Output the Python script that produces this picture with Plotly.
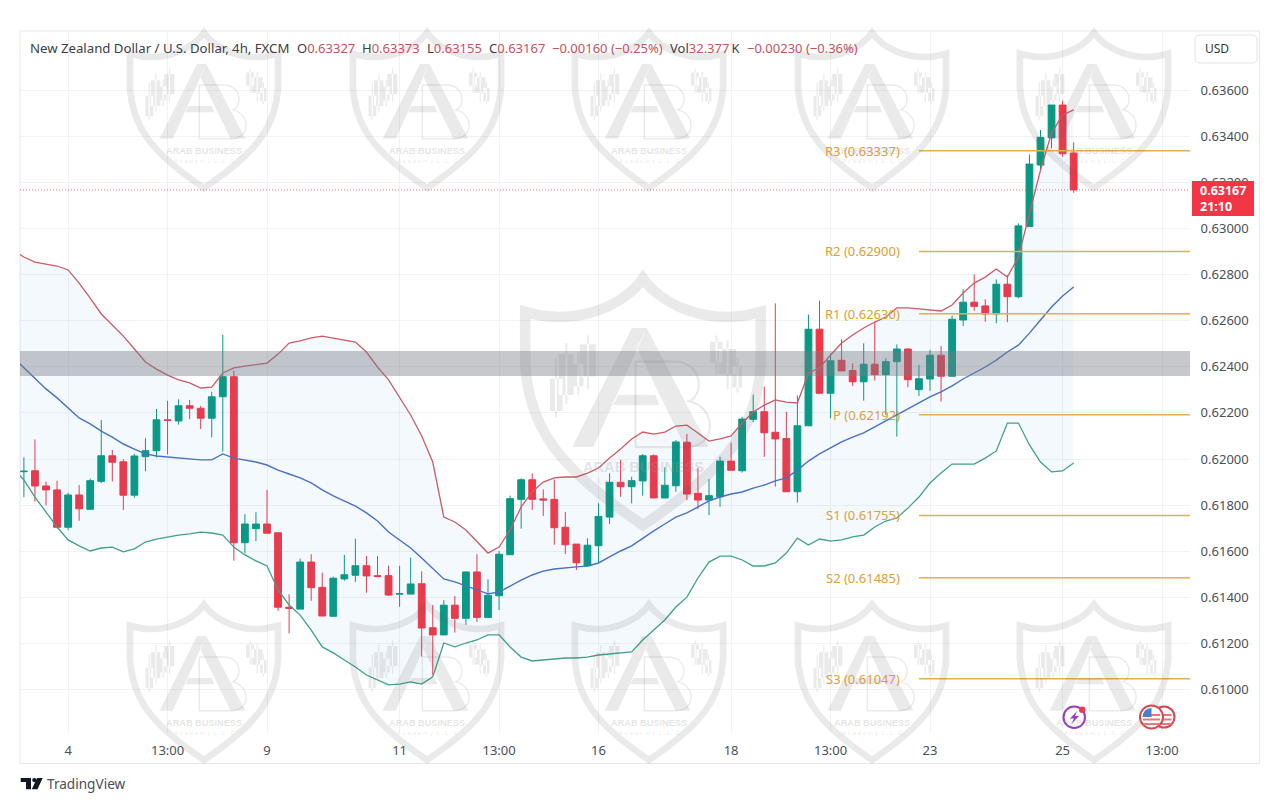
import plotly.graph_objects as go

# ---------- data ----------
opens = [.61945,.61949,.61883,.61866,.61704,.61844,.61782,.61903,.62014,.61988,.61843,.6201,.62036,.6217,.62165,.62231,.6222,.62177,.6227,.62357,
 .61637,.61698,.61718,.6168,.61357,.61349,.61553,.61443,.61318,.6148,.61496,.61537,.61494,.61494,.61414,.61414,.61459,.61268,.61237,.61366,
 .61309,.6151,.61313,.61407,.61585,.61825,.6191,.61827,.61825,.61704,.61631,.61537,.61624,.61748,.61899,.6188,.61905,.62014,.61831,.61884,
 .62073,.61851,.61822,.61836,.61991,.61949,.62172,.62205,.62116,.62089,.61858,.62144,.62563,.62285,.62428,.62384,.62335,.62411,.62366,.62422,
 .62477,.62301,.62347,.6245,.62359,.62603,.6268,.62664,.62629,.62758,.62704,.63008,.63275,.63393,.63535,.63327]
highs = [.62007,.62085,.61902,.61906,.61854,.61887,.61915,.62169,.62039,.61999,.62022,.6209,.62217,.62252,.62259,.62256,.6223,.62292,.62539,.62383,
 .61761,.61769,.61866,.6168,.61413,.61568,.61587,.61507,.6149,.61584,.61654,.61579,.61579,.61537,.61537,.61572,.61513,.61367,.61388,.61406,
 .61511,.61587,.61478,.61601,.61841,.61916,.61938,.61868,.61911,.6177,.61631,.61656,.61808,.61938,.61996,.61923,.62022,.6202,.61964,.62082,
 .62108,.61962,.61913,.6201,.62071,.62183,.62279,.62314,.62675,.62205,.62275,.62626,.62687,.62458,.6252,.62415,.62502,.62595,.62437,.62497,
 .6248,.62408,.62473,.6249,.62622,.62736,.62801,.62693,.62779,.62798,.63022,.63321,.63427,.63535,.63554,.63373]
lows = [.61834,.61815,.61799,.61699,.61692,.61732,.61779,.61895,.61903,.61779,.61832,.61947,.62007,.6202,.62149,.62173,.6213,.62094,.62032,.61559,
 .61591,.61644,.61678,.61341,.61244,.61347,.61385,.61319,.61318,.61472,.61467,.6142,.61489,.61406,.61359,.61413,.61143,.61063,.61237,.61247,
 .61281,.61293,.61313,.61345,.61585,.61698,.61779,.61753,.61628,.61588,.61519,.61537,.6155,.61718,.61836,.61808,.61841,.61831,.61831,.61858,
 .61822,.61782,.61757,.61793,.61951,.61941,.62159,.62009,.6188,.61858,.61812,.62144,.62285,.62177,.62382,.62317,.62253,.6234,.62191,.62097,
 .62311,.62273,.62296,.62249,.62359,.62577,.62643,.62595,.62589,.62593,.62697,.63008,.63256,.63347,.63311,.63155]
closes = [.61947,.61883,.61866,.61704,.61844,.61784,.61906,.62014,.61986,.61843,.62013,.62036,.6217,.62167,.62231,.6222,.62177,.6227,.62357,.61637,
 .61718,.61718,.61678,.61357,.61352,.61553,.61442,.61319,.61483,.61498,.61537,.61493,.6149,.6141,.61416,.61458,.61267,.61237,.61366,.61309,
 .6151,.61313,.61409,.61587,.61828,.6191,.61825,.61822,.61702,.61628,.6155,.61626,.61751,.61899,.6188,.61906,.62014,.61831,.61886,.62074,
 .61848,.61822,.61841,.61991,.61951,.62173,.62205,.62114,.62087,.61858,.62144,.62563,.62285,.62426,.62382,.62335,.62411,.62366,.62422,.62477,
 .62344,.62348,.6245,.62359,.62606,.6268,.62662,.62629,.62758,.62704,.63011,.63279,.63395,.63535,.63324,.63167]

# Bollinger bands start one bar before the first visible candle
bb_upper = [.62906,.62876,.62854,.62846,.62837,.6282,.62763,.62698,.62629,.62581,.62533,.62477,.62421,.6239,.62364,.62343,.6233,.62308,.62312,.62373,.62395,
 .62403,.62408,.62416,.62455,.62503,.62512,.62525,.62533,.62525,.62516,.62507,.62464,.62399,.62343,.62269,.62191,.621,.61987,.61748,.61727,
 .61692,.61644,.61592,.61618,.61692,.61792,.61857,.619,.61918,.61922,.61922,.61939,.61961,.62004,.62043,.62087,.62117,.62108,.62117,.62143,
 .62147,.62113,.62078,.62087,.621,.62156,.62204,.62234,.62256,.62247,.62243,.62373,.62395,.62451,.62503,.62538,.62568,.62594,.62616,.62655,
 .62655,.62651,.62646,.62642,.62668,.6272,.62763,.62789,.62824,.62789,.62876,.63067,.63253,.63414,.63492,.63514]
bb_basis = [.62442,.62395,.62351,.62304,.62265,.62221,.62178,.62152,.62121,.62095,.62065,.62043,.62022,.62013,.62009,.62004,.62,.61996,.61996,.62022,.62004,
 .61996,.61987,.61974,.61952,.61935,.61918,.61896,.61866,.6184,.61818,.61796,.61766,.61731,.61683,.61649,.61614,.61571,.61527,.6148,.61467,
 .61449,.61432,.61415,.61423,.61449,.61475,.61497,.61514,.61523,.61529,.61532,.61536,.61549,.61575,.61601,.61623,.61657,.61688,.61718,.61748,
 .61766,.61792,.61818,.61835,.61848,.61857,.61874,.61887,.61905,.61918,.61952,.61991,.62022,.62048,.62074,.62095,.62113,.62139,.62165,.62191,
 .62217,.62243,.62269,.62291,.62317,.62347,.62373,.62399,.62429,.62464,.62494,.62546,.62603,.62659,.62707,.62746]
bb_lower = [.61961,.61909,.61835,.6177,.61705,.61649,.61623,.61601,.61614,.61618,.61597,.6161,.6164,.61653,.61662,.6167,.61675,.61683,.61679,.6167,.61618,
 .61584,.61558,.61536,.61432,.61367,.61323,.61258,.61185,.61159,.61128,.61098,.61063,.61042,.6102,.61024,.61033,.61024,.61055,.61202,.61185,
 .61202,.61215,.61237,.61237,.61185,.61141,.61124,.61128,.61133,.61137,.61137,.61141,.6115,.61154,.61159,.61163,.61215,.61258,.61302,.61358,
 .61401,.61484,.61553,.61579,.61579,.61562,.61536,.61536,.61549,.61592,.61657,.61627,.61653,.61644,.61649,.61662,.6167,.61705,.61731,.61744,
 .61787,.61835,.61896,.61939,.61978,.61978,.61978,.62004,.62035,.62156,.62156,.62061,.61987,.61944,.61948,.61983]

pivot_names = ["R3", "R2", "R1", "P", "S1", "S2", "S3"]
pivot_values = [.63337, .62900, .62630, .62192, .61755, .61485, .61047]
zone_low, zone_high = .62360, .62468
last_price = .63167
time_positions = [4, 13, 22, 34, 43, 52, 64, 73, 82, 94, 103]
time_labels = ["4", "13:00", "9", "11", "13:00", "16", "18", "13:00", "23", "25", "13:00"]
price_ticks = [.61 + .002 * k for k in range(14)]

header_title = "New Zealand Dollar / U.S. Dollar, 4h, FXCM"
header_letters = ["O", "H", "L", "C", "", "Vol", ""]
header_values = ["0.63327", "0.63373", "0.63155", "0.63167", "\u22120.00160 (\u22120.25%)", "32.377", "\u22120.00230 (\u22120.36%)"]
header_suffix = ["", "", "", "", "", "\u2009K", ""]
header_x = [297, 362, 426.5, 488.5, 552, 669.5, 746.5]

# ---------- style ----------
FONT = "Noto Sans"
UP, DOWN = "#089981", "#f23645"
TXT = "#4a4f5a"
VAL = "#c4535f"
ORANGE = "#e6ae4e"
PL, PR, PT, PB = 20, 1190, 30, 733
W, H = 1280, 803
# pixel -> paper helpers for page furniture (frame, watermarks, icons)
X = lambda p: (p - PL) / (PR - PL)
Y = lambda p: (PB - p) / (PB - PT)
# axis ranges such that bars spaced 11.05 px start at x = 23.9 px
xr = [(PL - 23.9) / 11.05, (PR - 23.9) / 11.05]
yr = [.62 + (459 - PB) * 4.337e-5, .62 + (459 - PT) * 4.337e-5]

band_x = list(range(-1, 96))
bars = list(range(96))

fig = go.Figure()
fig.add_trace(go.Scatter(x=band_x, y=bb_upper, mode="lines", line=dict(color="#cb5c64", width=1.3), hoverinfo="skip"))
fig.add_trace(go.Scatter(x=band_x, y=bb_lower, mode="lines", line=dict(color="#41a088", width=1.3),
                         fill="tonexty", fillcolor="rgba(60,150,230,0.06)", hoverinfo="skip"))
fig.add_trace(go.Scatter(x=band_x, y=bb_basis, mode="lines", line=dict(color="#4a70c4", width=1.4), hoverinfo="skip"))
fig.add_trace(go.Scatter(x=[xr[0], xr[1]], y=[last_price, last_price], mode="lines",
                         line=dict(color="rgba(220,60,80,0.75)", width=1, dash="1px,2px"), hoverinfo="skip"))
for v in pivot_values:
    fig.add_trace(go.Scatter(x=[81, xr[1]], y=[v, v], mode="lines", line=dict(color=ORANGE, width=1.5), hoverinfo="skip"))
fig.add_trace(go.Candlestick(x=bars, open=opens, high=highs, low=lows, close=closes,
                             increasing=dict(line=dict(color=UP, width=1), fillcolor=UP),
                             decreasing=dict(line=dict(color=DOWN, width=1), fillcolor=DOWN),
                             whiskerwidth=0, hoverinfo="skip"))

shapes = []
annotations = []

# ---------- watermark logo ----------
WM = "rgba(90,90,90,0.13)"
def logo(cx, top, hw):
    def P(u, v):
        return f"{X(cx + u * hw):.5f},{Y(top + v * hw):.5f}"
    shield = (f"M{P(0,.06)} C{P(-.13,.25)} {P(-.5,.46)} {P(-.95,.33)} L{P(-.95,.75)} "
              f"C{P(-.92,1.25)} {P(-.7,1.58)} {P(0,2.05)} C{P(.7,1.58)} {P(.92,1.25)} {P(.95,.75)} "
              f"L{P(.95,.33)} C{P(.5,.46)} {P(.13,.25)} {P(0,.06)} Z")
    shapes.append(dict(type="path", xref="paper", yref="paper", path=shield, layer="above",
                       line=dict(color=WM, width=hw * .085)))
    fills = []
    fills.append(f"M{P(-.09,.46)} L{P(.03,.46)} L{P(-.40,1.42)} L{P(-.57,1.42)} Z")
    fills.append(f"M{P(.03,.46)} L{P(.53,1.42)} L{P(.34,1.42)} L{P(-.05,.62)} Z")
    fills.append(f"M{P(-.2,1.0)} L{P(.1,1.0)} L{P(.13,1.08)} L{P(-.24,1.08)} Z")
    rects = [(-.75,.87,-.65,1.13),(-.71,.70,-.695,1.18),(-.68,.67,-.56,1.0),(-.625,.58,-.61,1.07),
             (-.56,.75,-.48,.93),(-.53,.66,-.515,1.0),(-.51,.59,-.38,.85),(-.45,.52,-.435,.95),
             (.54,.57,.64,.74),(.585,.52,.60,.83),(.61,.63,.75,.83),(.675,.56,.69,.95),(.72,.77,.80,.94),(.755,.70,.77,.98)]
    for a, b, c, d in rects:
        fills.append(f"M{P(a,b)} L{P(c,b)} L{P(c,d)} L{P(a,d)} Z")
    shapes.append(dict(type="path", xref="paper", yref="paper", path=" ".join(fills), layer="above",
                       fillcolor=WM, line=dict(width=0)))
    b = (f"M{P(-.06,.73)} L{P(.25,.73)} C{P(.48,.73)} {P(.5,1.0)} {P(.37,1.05)} "
         f"C{P(.6,1.1)} {P(.6,1.42)} {P(.35,1.42)} L{P(-.06,1.42)} Z")
    shapes.append(dict(type="path", xref="paper", yref="paper", path=b, layer="above",
                       line=dict(color=WM, width=max(1, hw * .018))))
    annotations.append(dict(text="<b>ARAB BUSINESS</b>", x=X(cx), y=Y(top + 1.58 * hw), xref="paper", yref="paper",
                            showarrow=False, xanchor="center", yanchor="middle", borderpad=0, borderwidth=0,
                            font=dict(family="Liberation Sans", size=hw * .118, color="rgba(150,150,150,0.26)")))
    annotations.append(dict(text="A c a d e m y  L . L . C", x=X(cx), y=Y(top + 1.70 * hw), xref="paper", yref="paper",
                            showarrow=False, xanchor="center", yanchor="middle", borderpad=0, borderwidth=0,
                            font=dict(family="Liberation Sans", size=hw * .08, color="rgba(150,150,150,0.22)")))

for cx in [204, 427, 649, 872, 1094]:
    logo(cx, 28, 78)
    logo(cx, 600, 78)
logo(643, 271, 124)

# ---------- zone ----------
shapes.append(dict(type="rect", xref="paper", yref="y", x0=0, x1=1, y0=zone_low, y1=zone_high, layer="above",
                   fillcolor="rgba(120,123,134,0.42)", line=dict(width=0)))

# ---------- frame / USD / last-price label ----------
shapes.append(dict(type="rect", xref="paper", yref="paper", x0=X(20), x1=X(1259.5), y0=Y(763.5), y1=Y(31),
                   line=dict(color="#e6e7ea", width=1), layer="below"))
r = 5
shapes.append(dict(type="path", xref="paper", yref="paper",
                   path=(f"M{X(1195+r)},{Y(35)} L{X(1257-r)},{Y(35)} Q{X(1257)},{Y(35)} {X(1257)},{Y(35+r)} "
                         f"L{X(1257)},{Y(63-r)} Q{X(1257)},{Y(63)} {X(1257-r)},{Y(63)} L{X(1195+r)},{Y(63)} "
                         f"Q{X(1195)},{Y(63)} {X(1195)},{Y(63-r)} L{X(1195)},{Y(35+r)} Q{X(1195)},{Y(35)} {X(1195+r)},{Y(35)} Z"),
                   line=dict(color="#e3e4e8", width=1), fillcolor="white", layer="above"))
shapes.append(dict(type="rect", xref="paper", yref="paper", x0=X(1192), x1=X(1254), y0=Y(216), y1=Y(181),
                   fillcolor="#f23645", line=dict(width=0), layer="above"))

def txt(text, x, y, size, color, anchor="left", family=FONT):
    annotations.append(dict(text=text, x=X(x), y=Y(y), xref="paper", yref="paper", showarrow=False, xanchor=anchor,
                            yanchor="middle", borderpad=0, borderwidth=0, font=dict(family=family, size=size, color=color)))

txt("USD", 1205, 49, 12, "#33363f")
txt("<b>0.63167</b>", 1200, 190.5, 12.5, "white")
txt("<b>21:10</b>", 1200, 206.5, 12.5, "white")

# ---------- header ----------
txt(header_title, 30, 48, 13.2, "#3c4049")
for lx, a, v, s in zip(header_x, header_letters, header_values, header_suffix):
    t = (a if a else "") + f'<span style="color:{VAL}">{v}</span>' + s
    txt(t, lx, 48, 13, "#3c4049")

# ---------- pivot labels ----------
for n, v in zip(pivot_names, pivot_values):
    annotations.append(dict(text=f"{n} ({v:.5f})", x=79.3, y=v, xref="x", yref="y", showarrow=False, xanchor="right",
                            yanchor="middle", borderpad=0, borderwidth=0, font=dict(family=FONT, size=13, color="#e0a034")))

# ---------- footer logo ----------
def pth(d, **k):
    shapes.append(dict(type="path", xref="paper", yref="paper", path=d, layer="above", **k))
pth(f"M{X(20.7)},{Y(778)} L{X(31)},{Y(778)} L{X(31)},{Y(789.3)} L{X(26)},{Y(789.3)} L{X(26)},{Y(782)} L{X(20.7)},{Y(782)} Z "
    f"M{X(37)},{Y(778)} L{X(42.7)},{Y(778)} L{X(37.5)},{Y(789.3)} L{X(31.8)},{Y(789.3)} Z", fillcolor="#131722", line=dict(width=0))
shapes.append(dict(type="circle", xref="paper", yref="paper", x0=X(32.2), x1=X(36.4), y0=Y(782.2), y1=Y(778),
                   fillcolor="#131722", line=dict(width=0)))
txt("TradingView", 47, 784, 13.6, "#4a4e57")

# ---------- event icons ----------
PUR = "#9b3bc4"
shapes.append(dict(type="circle", xref="paper", yref="paper", x0=X(1063.5), x1=X(1085), y0=Y(728), y1=Y(706.5),
                   line=dict(color=PUR, width=2), fillcolor="rgba(255,255,255,0.8)"))
pth(f"M{X(1077)},{Y(711)} L{X(1070)},{Y(718.5)} L{X(1074)},{Y(718.5)} L{X(1071.5)},{Y(724)} L{X(1079)},{Y(716)} L{X(1075)},{Y(716)} Z",
    fillcolor=PUR, line=dict(width=0))
shapes.append(dict(type="circle", xref="paper", yref="paper", x0=X(1079), x1=X(1085.5), y0=Y(713), y1=Y(706.5),
                   fillcolor="#ef3b4a", line=dict(width=0)))
FR = "#d8464e"
for c, rd in [(1164, 10.5), (1151.5, 11.5)]:
    shapes.append(dict(type="circle", xref="paper", yref="paper", x0=X(c-rd), x1=X(c+rd), y0=Y(717+rd), y1=Y(717-rd),
                       line=dict(color=FR, width=2), fillcolor="white"))
    for dy in (-2, 2.5, 7):
        shapes.append(dict(type="line", xref="paper", yref="paper", x0=X(c-rd+3), x1=X(c+rd-3), y0=Y(717+dy), y1=Y(717+dy),
                           line=dict(color="#e8767b", width=2)))
shapes.append(dict(type="path", xref="paper", yref="paper",
                   path=f"M{X(1142.5)},{Y(717)} Q{X(1143)},{Y(708.5)} {X(1151.5)},{Y(708)} L{X(1151.5)},{Y(717)} Z",
                   fillcolor="#4d7fc9", line=dict(width=0)))

fig.update_layout(
    width=W, height=H, autosize=False, showlegend=False, paper_bgcolor="white", plot_bgcolor="white",
    margin=dict(l=PL, r=W - PR, t=PT, b=H - PB, pad=0),
    font=dict(family=FONT, size=13, color=TXT),
    shapes=shapes, annotations=annotations, hovermode=False, boxgap=0.12,
    xaxis=dict(range=xr, tickmode="array", tickvals=time_positions, ticktext=time_labels,
               showgrid=True, gridcolor="#f1f2f5", gridwidth=1, zeroline=False, showline=False,
               rangeslider=dict(visible=False), ticks="outside", ticklen=5, tickcolor="rgba(0,0,0,0)",
               tickfont=dict(family=FONT, size=13, color=TXT)),
    yaxis=dict(range=yr, side="right", tickmode="array", tickvals=price_ticks,
               ticktext=[f"{t:.5f}" for t in price_ticks],
               showgrid=True, gridcolor="#f1f2f5", gridwidth=1, zeroline=False, showline=False,
               ticks="outside", ticklen=7, tickcolor="rgba(0,0,0,0)",
               tickfont=dict(family=FONT, size=13, color=TXT)),
)

fig.write_html("out.html", post_script="document.body.style.margin='0';document.body.style.overflow='hidden';",
               config=dict(displayModeBar=False))
